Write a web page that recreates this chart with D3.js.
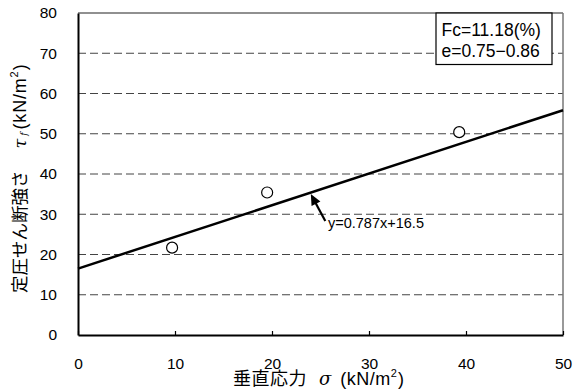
<!DOCTYPE html>
<html>
<head>
<meta charset="utf-8">
<script src="https://cdn.jsdelivr.net/npm/d3@7"></script>
<style>
  html, body { margin: 0; padding: 0; background: #fff; }
  svg { display: block; }
  text { font-family: "Liberation Sans", Arial, "Noto Sans CJK JP", sans-serif; fill: #000; }
  .jp { font-family: "Noto Sans CJK JP", "Liberation Sans", sans-serif; }
</style>
</head>
<body>
<script>
// Measured normal stress σ and constant-pressure shear strength τf
const sigma = [9.7, 19.5, 39.3];
const tau = [21.7, 35.4, 50.4];
// Regression line y = slope·x + intercept
const slope = 0.787;
const intercept = 16.5;
const xTicks = [0, 10, 20, 30, 40, 50];
const yTicks = [0, 10, 20, 30, 40, 50, 60, 70, 80];
const legendLines = ["Fc=11.18(%)", "e=0.75\u22120.86"];
const fitLabel = "y=0.787x+16.5";

const W = 574, H = 391;
const m = { left: 78, right: 11, top: 13, bottom: 56 };

const svg = d3.select("body").append("svg").attr("width", W).attr("height", H);

const x = d3.scaleLinear().domain([0, 50]).range([m.left, W - m.right]);
const y = d3.scaleLinear().domain([0, 80]).range([H - m.bottom, m.top]);

// Dashed horizontal gridlines
svg.append("g")
  .selectAll("line")
  .data(yTicks.filter(v => v > 0 && v < 80))
  .join("line")
  .attr("x1", x(0)).attr("x2", x(50))
  .attr("y1", d => y(d)).attr("y2", d => y(d))
  .attr("stroke", "#444").attr("stroke-width", 1)
  .attr("stroke-dasharray", "8,4");

// Plot frame: top and right edges
svg.append("line").attr("x1", x(0)).attr("x2", x(50)).attr("y1", y(80)).attr("y2", y(80))
  .attr("stroke", "#222").attr("stroke-width", 1.2);
svg.append("line").attr("x1", x(50)).attr("x2", x(50)).attr("y1", y(80)).attr("y2", y(0))
  .attr("stroke", "#777").attr("stroke-width", 1.5);

// X axis: ticks point inward, labels placed below
const xAxis = svg.append("g").attr("transform", `translate(0,${y(0)})`)
  .call(d3.axisBottom(x).tickValues(xTicks).tickSizeInner(-4).tickSizeOuter(0).tickPadding(23));
xAxis.select(".domain").attr("stroke", "#000").attr("stroke-width", 2);
xAxis.selectAll(".tick line").attr("stroke", "#000").attr("stroke-width", 1.2);
xAxis.selectAll(".tick text").attr("font-size", 15.5).attr("font-family", "Liberation Sans, Arial, sans-serif");

// Y axis
const yAxis = svg.append("g").attr("transform", `translate(${x(0)},0)`)
  .call(d3.axisLeft(y).tickValues(yTicks).tickSizeInner(0).tickSizeOuter(0).tickPadding(21));
yAxis.select(".domain").attr("stroke", "#000").attr("stroke-width", 2);
yAxis.selectAll(".tick text").attr("font-size", 15.5).attr("font-family", "Liberation Sans, Arial, sans-serif");

// Regression line
svg.append("line")
  .attr("x1", x(0)).attr("y1", y(intercept))
  .attr("x2", x(50)).attr("y2", y(slope * 50 + intercept))
  .attr("stroke", "#000").attr("stroke-width", 2.5);

// Data points
svg.append("g").selectAll("circle")
  .data(sigma.map((s, i) => [s, tau[i]]))
  .join("circle")
  .attr("cx", d => x(d[0])).attr("cy", d => y(d[1]))
  .attr("r", 5.5)
  .attr("fill", "#fff").attr("stroke", "#000").attr("stroke-width", 1.2);

// Arrow pointing at the fitted line
const ax = 24.0;
const tip = [x(ax), y(slope * ax + intercept) + 1.5];
const tail = [tip[0] + 14.5, tip[1] + 27];
const ang = Math.atan2(tip[1] - tail[1], tip[0] - tail[0]);
svg.append("line")
  .attr("x1", tail[0]).attr("y1", tail[1])
  .attr("x2", tip[0] - 7 * Math.cos(ang)).attr("y2", tip[1] - 7 * Math.sin(ang))
  .attr("stroke", "#000").attr("stroke-width", 2.2);
const hl = 11, hw = 5;
const bx = tip[0] - hl * Math.cos(ang), by = tip[1] - hl * Math.sin(ang);
svg.append("path")
  .attr("d", `M${tip[0]},${tip[1]} L${bx + hw * Math.sin(ang)},${by - hw * Math.cos(ang)} L${bx - hw * Math.sin(ang)},${by + hw * Math.cos(ang)} Z`)
  .attr("fill", "#000");
svg.append("text")
  .attr("x", 328).attr("y", 228)
  .attr("font-size", 14.5).text(fitLabel);

// Legend box
const lb = { x: 436, y: y(80), w: 116, h: 51.5 };
svg.append("rect")
  .attr("x", lb.x).attr("y", lb.y).attr("width", lb.w).attr("height", lb.h)
  .attr("fill", "#fff").attr("stroke", "#000").attr("stroke-width", 1.2);
svg.append("g").selectAll("text")
  .data(legendLines)
  .join("text")
  .attr("x", lb.x + 5.5).attr("y", (d, i) => lb.y + 22.5 + i * 21.5)
  .attr("font-size", 17.5).text(d => d);

// X axis title
const xt = svg.append("text")
  .attr("class", "jp")
  .attr("x", 233).attr("y", 385)
  .attr("font-size", 18);
xt.append("tspan").attr("letter-spacing", 0.5).text("垂直応力");
xt.append("tspan").attr("font-family", "DejaVu Serif, serif").attr("font-style", "italic").attr("dx", 12).text("σ");
xt.append("tspan").attr("font-family", "Liberation Sans, sans-serif").attr("letter-spacing", 0.5).attr("dx", 9).text("(kN/m");
xt.append("tspan").attr("font-family", "Liberation Sans, sans-serif").attr("font-size", 11).attr("dy", -8).text("2");
xt.append("tspan").attr("font-family", "Liberation Sans, sans-serif").attr("dy", 8).attr("dx", 1).text(")");

// Y axis title (rotated, reads bottom to top)
const yt = svg.append("text")
  .attr("class", "jp")
  .attr("transform", `translate(26,293) rotate(-90)`)
  .attr("font-size", 17.5);
yt.append("tspan").text("定圧せん断強さ");
yt.append("tspan").attr("font-family", "DejaVu Serif, serif").attr("font-style", "italic").attr("dx", 22).text("τ");
yt.append("tspan").attr("font-family", "DejaVu Serif, serif").attr("font-style", "italic").attr("font-size", 9).attr("dx", 3).attr("dy", 1).text("f");
yt.append("tspan").attr("font-family", "Liberation Sans, sans-serif").attr("font-size", 18).attr("letter-spacing", 0.8).attr("dx", 3).attr("dy", -1).text("(kN/m");
yt.append("tspan").attr("font-family", "Liberation Sans, sans-serif").attr("font-size", 11).attr("dy", -8).text("2");
yt.append("tspan").attr("font-family", "Liberation Sans, sans-serif").attr("font-size", 18).attr("dy", 8).attr("dx", 1).text(")");
</script>
</body>
</html>
